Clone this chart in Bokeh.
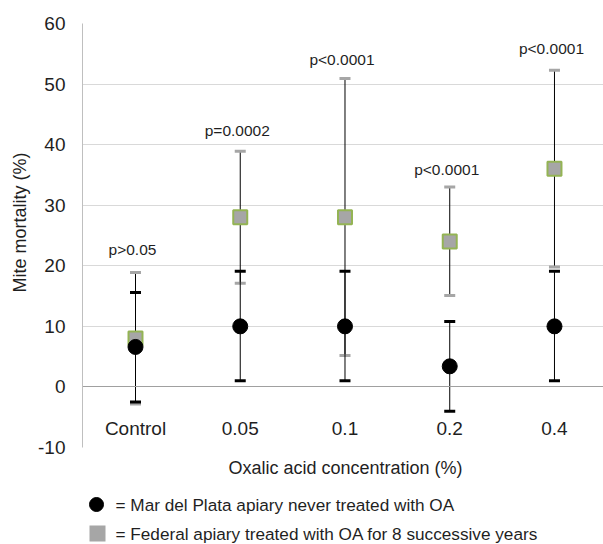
from bokeh.plotting import figure
from bokeh.layouts import column
from bokeh.models import ColumnDataSource, Range1d, FixedTicker, Whisker, TeeHead, Title
from bokeh.core.properties import value
from bokeh.embed import file_html
from bokeh.resources import INLINE

# ---------------- data ----------------
categories = ["Control", "0.05", "0.1", "0.2", "0.4"]
mdp_mean = [6.6, 10.0, 10.0, 3.4, 10.0]
mdp_lower = [-2.5, 1.0, 1.0, -4.0, 1.0]
mdp_upper = [15.6, 19.1, 19.1, 10.8, 19.1]
fed_mean = [8.0, 28.0, 28.0, 24.0, 36.0]
fed_lower = [-2.8, 17.1, 5.2, 15.1, 19.8]
fed_upper = [18.9, 38.9, 50.9, 33.0, 52.3]
p_labels = ["p>0.05", "p=0.0002", "p<0.0001", "p<0.0001", "p<0.0001"]
p_label_y = [22.7, 42.3, 54.1, 35.9, 55.8]
y_ticks = [-10, 0, 10, 20, 30, 40, 50, 60]
y_tick_labels = ["-10", "0", "10", "20", "30", "40", "50", "60"]
legend_labels = ["= Mar del Plata apiary never treated with OA",
                 "= Federal apiary treated with OA for 8 successive years"]
x_title = "Oxalic acid concentration (%)"
y_title = "Mite mortality (%)"

FONT = "Liberation Sans"
TXT = "#1f1f1f"
GRAY = "#a6a6a6"
GREEN = "#94b454"

xs = list(range(len(categories)))

# ---------------- main plot ----------------
FRAME_L, FRAME_T, FRAME_B = 82, 23, 447
p = figure(width=603, height=FRAME_B + 10,
           x_range=Range1d(-0.506, 4.468), y_range=Range1d(-10, 60),
           output_backend="svg", toolbar_location=None,
           min_border_left=FRAME_L, min_border_right=0,
           min_border_top=FRAME_T, min_border_bottom=10)
p.outline_line_color = None
p.background_fill_color = "white"
p.xgrid.visible = False
p.ygrid.ticker = FixedTicker(ticks=y_ticks)
p.ygrid.grid_line_color = "#d9d9d9"
p.ygrid.grid_line_width = 1

ya = p.yaxis[0]
ya.ticker = FixedTicker(ticks=y_ticks)
ya.major_label_overrides = {t: s for t, s in zip(y_ticks, y_tick_labels)}
ya.major_tick_line_color = None
ya.minor_tick_line_color = None
ya.major_tick_out = 0
ya.major_tick_in = 0
ya.axis_line_color = "#bfbfbf"
ya.major_label_standoff = 17
ya.major_label_text_font = FONT
ya.major_label_text_font_size = "19px"
ya.major_label_text_color = TXT

xa = p.xaxis[0]
xa.fixed_location = 0
xa.ticker = FixedTicker(ticks=xs)
xa.major_label_overrides = {i: c for i, c in zip(xs, categories)}
xa.major_tick_line_color = None
xa.minor_tick_line_color = None
xa.major_tick_out = 0
xa.major_tick_in = 0
xa.axis_line_color = "#a0a0a0"
xa.major_label_standoff = 31
xa.major_label_text_font = FONT
xa.major_label_text_font_size = "19px"
xa.major_label_text_color = TXT

# y-axis title on the left side (shifted up as in the reference)
p.add_layout(Title(text=y_title, align="left", offset=155, vertical_align="middle",
                   text_font=FONT, text_font_size="18px", text_font_style="normal",
                   text_color=TXT), "left")

src_f = ColumnDataSource(dict(x=xs, mean=fed_mean, lower=fed_lower, upper=fed_upper))
src_m = ColumnDataSource(dict(x=xs, mean=mdp_mean, lower=mdp_lower, upper=mdp_upper))
src_p = ColumnDataSource(dict(x=xs, y=p_label_y, t=p_labels))

w_f = Whisker(base="x", lower="lower", upper="upper", source=src_f, dimension="height",
              line_color="black", line_width=1,
              lower_head=TeeHead(size=11, line_color=GRAY, line_width=3),
              upper_head=TeeHead(size=11, line_color=GRAY, line_width=3))
w_m = Whisker(base="x", lower="lower", upper="upper", source=src_m, dimension="height",
              line_color="black", line_width=1,
              lower_head=TeeHead(size=11, line_color="black", line_width=3),
              upper_head=TeeHead(size=11, line_color="black", line_width=3))
p.add_layout(w_f)
p.add_layout(w_m)

p.scatter("x", "mean", source=src_f, marker="square", size=14,
          fill_color=GRAY, line_color=GREEN, line_width=2)
p.scatter("x", "mean", source=src_m, marker="circle", size=15,
          fill_color="black", line_color="black")

p.text(x="x", y="y", text="t", source=src_p, x_offset=-3,
       text_font=value(FONT), text_font_size="15.5px", text_color=TXT,
       text_align="center", text_baseline="middle")

# ---------------- bottom strip: axis title + legend (pixel layout space) ----------------
TOP2 = FRAME_B + 10
p2 = figure(width=603, height=544 - TOP2,
            x_range=Range1d(FRAME_L, 603), y_range=Range1d(544, TOP2),
            output_backend="svg", toolbar_location=None,
            min_border_left=FRAME_L, min_border_right=0, min_border_top=0, min_border_bottom=0)
p2.axis.visible = False
p2.grid.visible = False
p2.outline_line_color = None

p2.text(x=[345], y=[467], text=[x_title], text_font=value(FONT), text_font_size="18px",
        text_color=TXT, text_align="center", text_baseline="middle")

row_y = [504, 533]
p2.scatter(x=[96], y=[row_y[0]], marker="circle", size=14, fill_color="black", line_color="black")
p2.scatter(x=[97], y=[row_y[1]], marker="square", size=16, fill_color=GRAY, line_color=None)
p2.text(x=[115, 115], y=row_y, text=legend_labels, text_font=value(FONT),
        text_font_size="17.2px", text_color=TXT, text_align="left", text_baseline="middle")

layout = column(p, p2, spacing=0)
open("out.html", "w").write(file_html(layout, INLINE))
